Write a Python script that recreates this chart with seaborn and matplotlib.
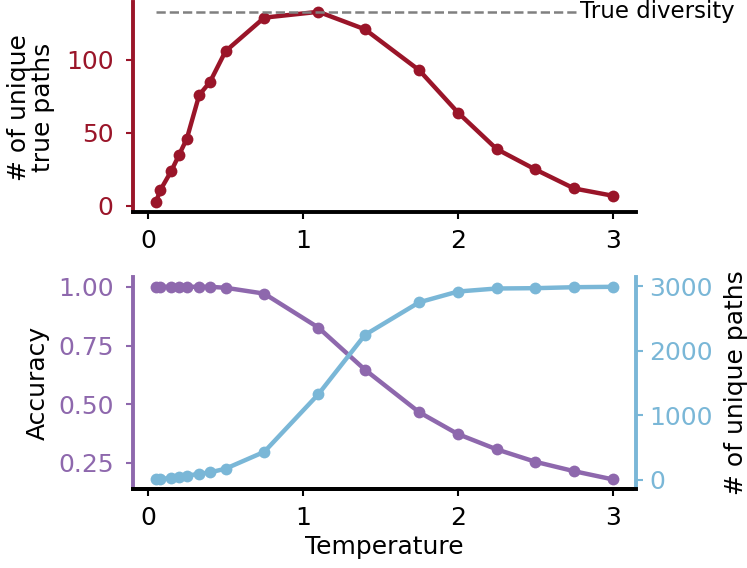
import numpy as np
import pandas as pd
import matplotlib
matplotlib.use("Agg")
import matplotlib.pyplot as plt
import seaborn as sns

# Datos
temperatures = [0.05, 0.08, 0.15, 0.2, 0.25, 0.33, 0.4, 0.5, 0.75, 1.1, 1.4,
                1.75, 2.0, 2.25, 2.5, 2.75, 3.0]
true_paths = [2.5, 11, 24, 35, 46, 76, 85, 106, 129, 133, 121,
              93, 64, 39, 25, 12, 7]
accuracy = [1.0, 1.0, 1.0, 1.0, 1.0, 1.0, 1.0, 0.996, 0.971, 0.826, 0.647,
            0.466, 0.373, 0.308, 0.255, 0.215, 0.18]
unique_paths = [6, 10, 31, 42, 63, 94, 115, 172, 433, 1328, 2245,
                2750, 2917, 2964, 2969, 2984, 2990]
true_diversity = 133

RED = '#9a1529'
PURPLE = '#8e68ad'
BLUE = '#7ab7d7'
FS = 18

sns.set_theme(style='ticks')
plt.rcParams['font.family'] = ['DejaVu Sans']
plt.rcParams['text.color'] = 'black'
plt.rcParams['axes.labelcolor'] = 'black'

df = pd.DataFrame({'temp': temperatures, 'true': true_paths,
                   'acc': accuracy, 'uniq': unique_paths})

fig = plt.figure(figsize=(7.47, 5.68), dpi=100)
ax1 = fig.add_axes([0.178, 0.627, 0.673, 0.369])
ax2 = fig.add_axes([0.178, 0.139, 0.673, 0.373])
ax3 = ax2.twinx()

line_kw = dict(marker='o', markersize=8.5, linewidth=3.2, markeredgewidth=0)
tick_kw = dict(labelsize=FS, width=1.5, length=5)

# Panel superior
sns.lineplot(data=df, x='temp', y='true', ax=ax1, color=RED, **line_kw)
ax1.hlines(true_diversity, temperatures[0], 3.0, colors='gray',
           linestyles='--', linewidth=1.8)
ax1.text(2.79, true_diversity, 'True diversity', fontsize=16.5, va='center',
         ha='left', color='black',
         bbox=dict(facecolor='white', edgecolor='none', pad=1))
ax1.set_ylabel('# of unique\ntrue paths', fontsize=FS, color='black',
               labelpad=8, linespacing=1.0)
ax1.set_xlabel('')
ax1.set_xticks([0, 1, 2, 3])
ax1.set_yticks([0, 50, 100])
ax1.tick_params(axis='y', colors=RED, pad=9, **tick_kw)
ax1.tick_params(axis='x', colors='black', pad=7, **tick_kw)
ax1.spines['left'].set_color(RED)
ax1.spines['left'].set_linewidth(2.8)
ax1.spines['bottom'].set_linewidth(2.8)
ax1.spines['bottom'].set_color('black')
sns.despine(ax=ax1)

# Panel inferior
sns.lineplot(data=df, x='temp', y='acc', ax=ax2, color=PURPLE, **line_kw)
sns.lineplot(data=df, x='temp', y='uniq', ax=ax3, color=BLUE, **line_kw)
ax2.set_ylabel('Accuracy', fontsize=FS, color='black', labelpad=6)
ax3.set_ylabel('# of unique paths', fontsize=FS, color='black', labelpad=8)
ax2.set_xlabel('Temperature', fontsize=FS, color='black', labelpad=4)
ax2.set_xticks([0, 1, 2, 3])
ax2.set_yticks([0.25, 0.5, 0.75, 1.0])
ax3.set_yticks([0, 1000, 2000, 3000])
ax2.tick_params(axis='y', colors=PURPLE, pad=9, **tick_kw)
ax2.tick_params(axis='x', colors='black', pad=7, **tick_kw)
ax3.tick_params(axis='y', colors=BLUE, pad=5, **tick_kw)
for a in (ax2, ax3):
    a.spines['top'].set_visible(False)
    a.spines['bottom'].set_linewidth(2.8)
    a.spines['bottom'].set_color('black')
ax2.spines['right'].set_visible(False)
ax3.spines['left'].set_visible(False)
ax2.spines['left'].set_color(PURPLE)
ax2.spines['left'].set_linewidth(2.8)
ax3.spines['right'].set_color(BLUE)
ax3.spines['right'].set_linewidth(2.8)

fig.savefig('out.png', dpi=100)
